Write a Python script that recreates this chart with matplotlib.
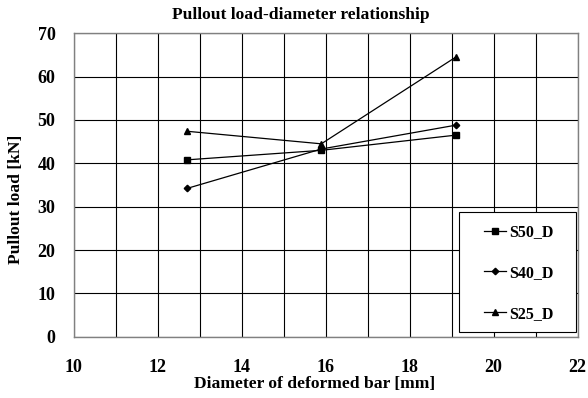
import matplotlib
matplotlib.use("Agg")
import matplotlib.pyplot as plt
from matplotlib.patches import Rectangle

diameters = [12.7, 15.9, 19.1]
s50_d = [40.8, 43.0, 46.5]
s40_d = [34.2, 43.3, 48.8]
s25_d = [47.4, 44.5, 64.5]
x_ticks = [10, 12, 14, 16, 18, 20, 22]
y_ticks = [0, 10, 20, 30, 40, 50, 60, 70]

plt.rcParams['font.family'] = ['Liberation Serif', 'DejaVu Serif']
plt.rcParams['font.weight'] = 'bold'

W, H = 588, 398
fig = plt.figure(figsize=(W / 100, H / 100), dpi=100)
ax_l, ax_r, ax_t, ax_b = 73.5, 577.5, 33.3, 336.7
ax = fig.add_axes([ax_l / W, 1 - ax_b / H, (ax_r - ax_l) / W, (ax_b - ax_t) / H])

ax.plot(diameters, s50_d, color='black', lw=0.9, marker='s', ms=4.2, label='S50_D', zorder=3)
ax.plot(diameters, s40_d, color='black', lw=0.9, marker='D', ms=3.3, label='S40_D', zorder=3)
ax.plot(diameters, s25_d, color='black', lw=0.9, marker='^', ms=5, label='S25_D', zorder=3)

ax.set_xlim(10, 22)
ax.set_ylim(0, 70)
ax.set_xticks(x_ticks)
ax.set_xticks(range(10, 23), minor=True)
ax.set_yticks(y_ticks)
ax.grid(True, which='both', color='black', lw=0.8, zorder=1)
ax.set_axisbelow(True)
ax.tick_params(which='both', length=0, labelsize=13)
ax.tick_params(axis='y', pad=13)
ax.tick_params(axis='x', pad=16)
for lbl in ax.get_xticklabels() + ax.get_yticklabels():
    lbl.set_fontweight('bold')
for s in ax.spines.values():
    s.set_color('#808080')
    s.set_linewidth(1.0)

# axis titles
fig.text(315 / W, 1 - 384 / H, 'Diameter of deformed bar [mm]', fontsize=12.6,
         fontweight='bold', ha='center', va='center')
fig.text(16 / W, 1 - 199 / H, 'Pullout load [kN]', fontsize=12.6,
         fontweight='bold', ha='center', va='center', rotation=90)
fig.text(301 / W, 1 - 15 / H, 'Pullout load-diameter relationship', fontsize=12.6,
         fontweight='bold', ha='center', va='center')

# legend box
def ax_x(px):
    return (px - ax_l) / (ax_r - ax_l)

def ax_y(py):
    return (ax_b - py) / (ax_b - ax_t)

frame = Rectangle((ax_x(459.3), ax_y(332.3)), ax_x(575.7) - ax_x(459.3),
                  ax_y(212.3) - ax_y(332.3), transform=ax.transAxes,
                  facecolor='white', edgecolor='black', lw=0.8, zorder=4)
ax.add_patch(frame)
leg = ax.legend(loc='center', bbox_to_anchor=(ax_x(518.5), ax_y(273)), frameon=False,
                handlelength=1.4, handletextpad=0.15, labelspacing=1.55, borderpad=0,
                prop={'size': 11.5, 'weight': 'bold'})
leg.set_zorder(5)

fig.savefig('out.png', dpi=100)
